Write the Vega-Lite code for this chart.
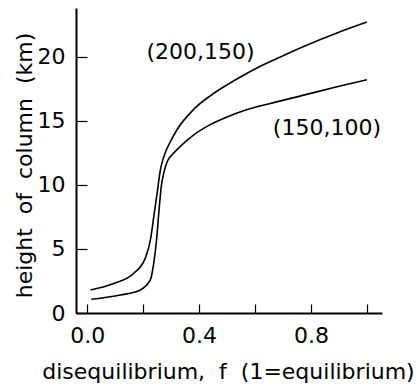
{
  "$schema": "https://vega.github.io/schema/vega-lite/v6.json",
  "autosize": {"type": "none"},
  "width": 306,
  "height": 305,
  "padding": {"left": 76, "top": 8, "right": 34, "bottom": 71},
  "background": "white",
  "config": {
    "view": {"stroke": null},
    "font": "DejaVu Sans"
  },
  "datasets": {
    "curves": [
      {"f": 0.012, "h": 1.8, "s": "(200,150)"},
      {"f": 0.095, "h": 2.3, "s": "(200,150)"},
      {"f": 0.167, "h": 3.1, "s": "(200,150)"},
      {"f": 0.208, "h": 4.3, "s": "(200,150)"},
      {"f": 0.226, "h": 5.7, "s": "(200,150)"},
      {"f": 0.238, "h": 7.5, "s": "(200,150)"},
      {"f": 0.25, "h": 9.35, "s": "(200,150)"},
      {"f": 0.262, "h": 11.2, "s": "(200,150)"},
      {"f": 0.274, "h": 12.2, "s": "(200,150)"},
      {"f": 0.298, "h": 13.4, "s": "(200,150)"},
      {"f": 0.321, "h": 14.3, "s": "(200,150)"},
      {"f": 0.381, "h": 15.9, "s": "(200,150)"},
      {"f": 0.44, "h": 16.95, "s": "(200,150)"},
      {"f": 0.5, "h": 17.8, "s": "(200,150)"},
      {"f": 0.559, "h": 18.55, "s": "(200,150)"},
      {"f": 0.619, "h": 19.25, "s": "(200,150)"},
      {"f": 0.655, "h": 19.62, "s": "(200,150)"},
      {"f": 0.774, "h": 20.8, "s": "(200,150)"},
      {"f": 0.893, "h": 21.85, "s": "(200,150)"},
      {"f": 1.0, "h": 22.7, "s": "(200,150)"},
      {"f": 0.015, "h": 1.07, "s": "(150,100)"},
      {"f": 0.119, "h": 1.4, "s": "(150,100)"},
      {"f": 0.19, "h": 1.8, "s": "(150,100)"},
      {"f": 0.226, "h": 2.6, "s": "(150,100)"},
      {"f": 0.238, "h": 3.9, "s": "(150,100)"},
      {"f": 0.248, "h": 5.7, "s": "(150,100)"},
      {"f": 0.256, "h": 7.8, "s": "(150,100)"},
      {"f": 0.265, "h": 9.9, "s": "(150,100)"},
      {"f": 0.271, "h": 10.65, "s": "(150,100)"},
      {"f": 0.279, "h": 11.35, "s": "(150,100)"},
      {"f": 0.288, "h": 11.9, "s": "(150,100)"},
      {"f": 0.306, "h": 12.4, "s": "(150,100)"},
      {"f": 0.333, "h": 13.0, "s": "(150,100)"},
      {"f": 0.381, "h": 13.9, "s": "(150,100)"},
      {"f": 0.44, "h": 14.7, "s": "(150,100)"},
      {"f": 0.5, "h": 15.3, "s": "(150,100)"},
      {"f": 0.559, "h": 15.78, "s": "(150,100)"},
      {"f": 0.655, "h": 16.35, "s": "(150,100)"},
      {"f": 0.774, "h": 17.0, "s": "(150,100)"},
      {"f": 0.893, "h": 17.65, "s": "(150,100)"},
      {"f": 1.0, "h": 18.2, "s": "(150,100)"}
    ],
    "labels": [
      {"f": 0.405, "h": 20.4, "t": "(200,150)"},
      {"f": 0.857, "h": 14.4, "t": "(150,100)"}
    ]
  },
  "layer": [
    {
      "data": {"name": "curves"},
      "mark": {"type": "line", "interpolate": "monotone", "color": "black", "strokeWidth": 1.6},
      "encoding": {
        "x": {
          "field": "f", "type": "quantitative",
          "scale": {"domain": [-0.04, 1.054], "nice": false, "zero": false},
          "axis": {
            "title": "disequilibrium,\u00a0 f\u00a0 (1=equilibrium)",
            "values": [0, 0.2, 0.4, 0.6, 0.8, 1.0],
            "labelExpr": "(abs(datum.value - 0) < 0.01 || abs(datum.value - 0.4) < 0.01 || abs(datum.value - 0.8) < 0.01) ? format(datum.value, '.1f') : ''",
            "grid": false,
            "domainColor": "black", "domainWidth": 2,
            "tickColor": "black", "tickWidth": 1.2, "tickSize": -9,
            "labelPadding": 21, "labelFontSize": 22, "labelColor": "black", "labelFont": "DejaVu Sans",
            "titleFontSize": 22, "titleFontWeight": "normal", "titleColor": "black", "titleFont": "DejaVu Sans",
            "titleX": 152, "titleY": 65, "titleBaseline": "alphabetic", "titleAlign": "center"
          }
        },
        "y": {
          "field": "h", "type": "quantitative",
          "scale": {"domain": [0, 23.8], "nice": false},
          "axis": {
            "title": "height\u00a0 of\u00a0 column\u00a0 (km)",
            "values": [0, 5, 10, 15, 20],
            "grid": false,
            "domainColor": "black", "domainWidth": 2,
            "tickColor": "black", "tickWidth": 1.2, "tickSize": -11,
            "labelPadding": 22, "labelFontSize": 22, "labelColor": "black", "labelFont": "DejaVu Sans",
            "titleFontSize": 22, "titleFontWeight": "normal", "titleColor": "black", "titleFont": "DejaVu Sans",
            "titleAngle": -90, "titleX": -45, "titleY": 157, "titleBaseline": "alphabetic", "titleAlign": "center"
          }
        },
        "detail": {"field": "s"}
      }
    },
    {
      "data": {"name": "labels"},
      "mark": {"type": "text", "fontSize": 22, "font": "DejaVu Sans", "color": "black", "align": "center", "baseline": "middle"},
      "encoding": {
        "x": {"field": "f", "type": "quantitative"},
        "y": {"field": "h", "type": "quantitative"},
        "text": {"field": "t"}
      }
    }
  ]
}
